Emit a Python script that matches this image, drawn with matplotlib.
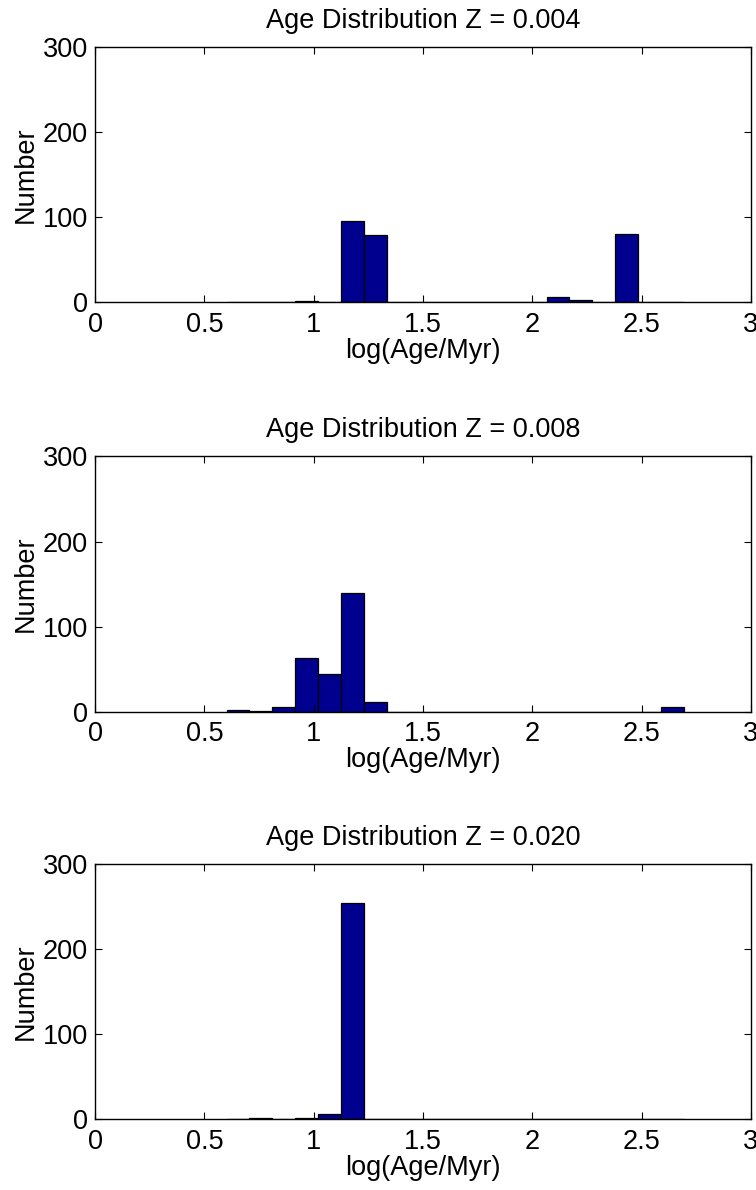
import matplotlib
matplotlib.use('Agg')
import matplotlib.pyplot as plt
import numpy as np

plt.rcParams['font.family'] = ['Liberation Sans', 'DejaVu Sans']

#### Histogram data (20 bins, MATLAB hist style)
bin_lo = 0.6015
bin_hi = 2.692
n_bins = 20
edges = np.linspace(bin_lo, bin_hi, n_bins + 1)

titles = ['Age Distribution Z = 0.004',
          'Age Distribution Z = 0.008',
          'Age Distribution Z = 0.020']

counts_z004 = [0, 1, 0, 2, 0, 96, 79, 0, 0, 0, 0, 0, 0, 0, 7, 3, 0, 80, 0, 1]
counts_z008 = [2, 1, 6, 63, 44, 139, 11, 0, 0, 0, 0, 0, 0, 0, 0, 0, 0, 0, 0, 5]
counts_z020 = [0, 1, 0, 1, 6, 254, 0, 0, 0, 0, 0, 0, 0, 0, 0, 0, 0, 0, 0, 0]
all_counts = [counts_z004, counts_z008, counts_z020]

x_ticks = [0, 0.5, 1, 1.5, 2, 2.5, 3]
x_ticklabels = ['0', '0.5', '1', '1.5', '2', '2.5', '3']
y_ticks = [0, 100, 200, 300]

fig = plt.figure(figsize=(7.56, 11.9), dpi=100)
bottoms = [0.7458, 0.4019, 0.0594]   ## axes bottoms in figure coords

for bot, ttl, cnt in zip(bottoms, titles, all_counts):
    ax = fig.add_axes([0.1258, bot, 0.8675, 0.2145])
    ax.bar(edges[:-1], cnt, width=np.diff(edges), align='edge',
           color='#00008F', edgecolor='black', linewidth=0.9)
    ax.set_xlim(0, 3)
    ax.set_ylim(0, 300)
    ax.set_xticks(x_ticks)
    ax.set_xticklabels(x_ticklabels)
    ax.set_yticks(y_ticks)
    ax.tick_params(direction='in', top=True, right=True, length=5,
                   width=0.8, labelsize=19.5)
    ax.tick_params(axis='x', pad=7)
    ax.tick_params(axis='y', pad=5)
    for sp in ax.spines.values():
        sp.set_linewidth(1.0)
    ax.set_title(ttl, fontsize=19.5, pad=14)
    ax.set_xlabel('log(Age/Myr)', fontsize=19.5, labelpad=0)
    ax.set_ylabel('Number', fontsize=19.5, labelpad=3)

plt.savefig('out.png', dpi=100)
